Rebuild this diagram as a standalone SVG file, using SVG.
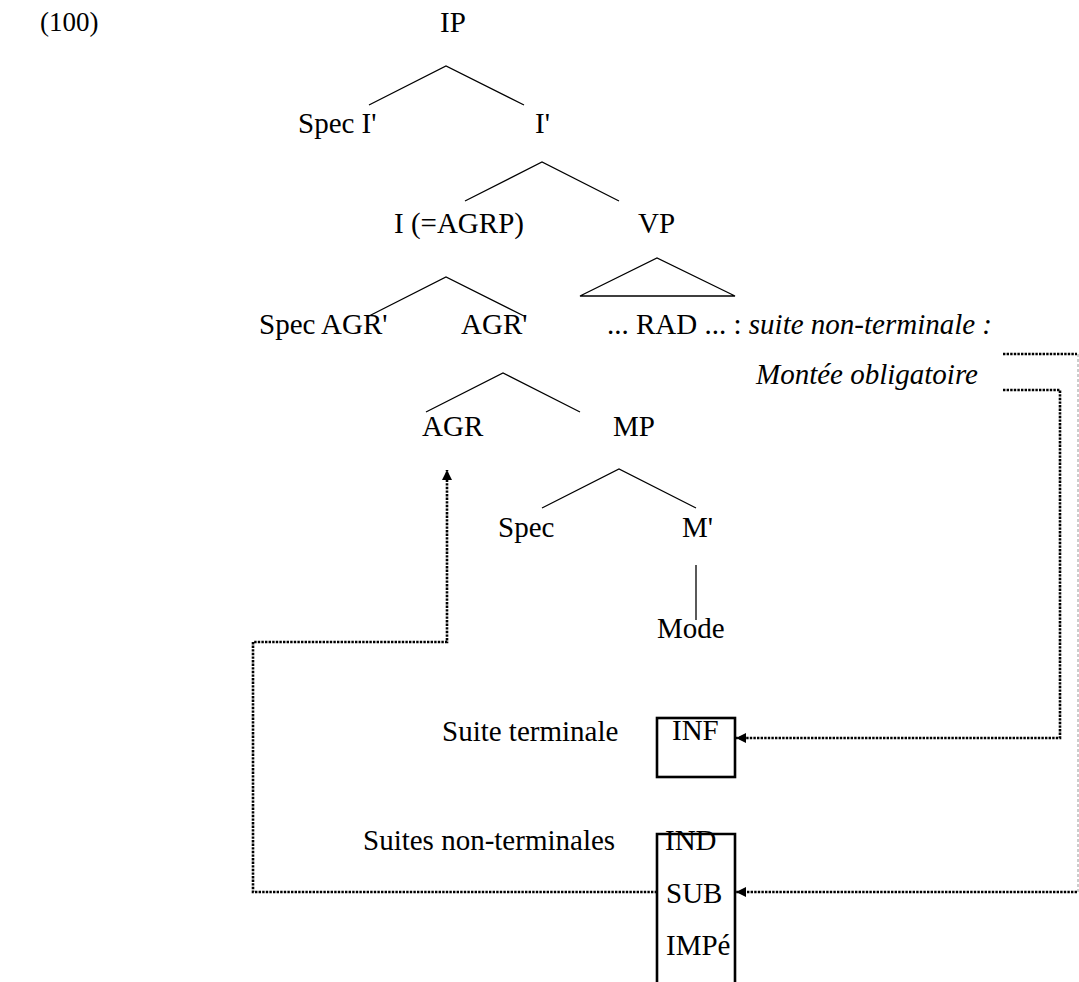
<svg xmlns="http://www.w3.org/2000/svg" width="1079" height="982" viewBox="0 0 1079 982">
<style>
text{font-family:"Liberation Serif","Times New Roman",serif;font-size:29px;fill:#000}
.it{font-style:italic}
.edge{stroke:#000;stroke-width:1.3;fill:none}
.dot{stroke:#000;stroke-width:2.6;stroke-dasharray:2.4 1.2;fill:none}
.gdash{stroke:#9a9a9a;stroke-width:1;stroke-dasharray:3 2;fill:none}
.box{stroke:#000;stroke-width:2.6;fill:none}
</style>
<defs>
<marker id="ah" viewBox="0 0 10 10" refX="10" refY="5" markerWidth="11" markerHeight="10" markerUnits="userSpaceOnUse" orient="auto">
<path d="M0,0 L10,5 L0,10 Z" fill="#000"/>
</marker>
</defs>
<rect width="1079" height="982" fill="#fff"/>
<g id="label-100"><text x="40" y="31" style="font-size:27px">(100)</text></g>
<g id="node-IP"><text x="440" y="32">IP</text></g>
<g id="node-SpecI"><text x="298" y="133">Spec I'</text></g>
<g id="node-Ibar"><text x="535" y="133">I'</text></g>
<g id="node-I-AGRP"><text x="394" y="233">I (=AGRP)</text></g>
<g id="node-VP"><text x="638" y="233">VP</text></g>
<g id="node-SpecAGR"><text x="259" y="334">Spec AGR'</text></g>
<g id="node-AGRbar"><text x="461" y="334">AGR'</text></g>
<g id="node-RAD"><text x="607" y="334">... RAD ... : <tspan class="it">suite non-terminale :</tspan></text></g>
<g id="label-montee"><text class="it" x="978" y="384" text-anchor="end">Montée obligatoire</text></g>
<g id="node-AGR"><text x="422" y="436">AGR</text></g>
<g id="node-MP"><text x="613" y="436">MP</text></g>
<g id="node-Spec"><text x="498" y="537">Spec</text></g>
<g id="node-Mbar"><text x="682" y="537">M'</text></g>
<g id="node-Mode"><text x="657" y="638">Mode</text></g>
<g id="label-suite-terminale"><text x="442" y="741">Suite terminale</text></g>
<g id="box-INF"><rect class="box" x="657" y="718" width="78" height="59"/><text x="672" y="740">INF</text></g>
<g id="label-suites-nonterminales"><text x="363" y="850">Suites non-terminales</text></g>
<g id="box-modes">
<path class="box" d="M657,984 V834 H735 V984"/>
<text x="665" y="850">IND</text>
<text x="666" y="903">SUB</text>
<text x="666" y="955">IMPé</text>
</g>
<g id="connectors">
<path class="edge" d="M369,105 L446,66 L524,105"/>
<path class="edge" d="M465,201 L542,162 L619,201"/>
<path class="edge" d="M580,296 L657,258 L735,296 Z"/>
<path class="edge" d="M369,316 L446,277 L524,316"/>
<path class="edge" d="M426,412 L503,373 L580,412"/>
<path class="edge" d="M542,508 L619,469 L696,508"/>
<path class="edge" d="M696,565 V620"/>
<path class="dot" d="M1003,354 H1077"/>
<path class="gdash" d="M1078,354 V892"/>
<path class="dot" d="M1077,892 H736" marker-end="url(#ah)"/>
<path class="dot" d="M1003,390 H1060 V738 H736" marker-end="url(#ah)"/>
<path class="dot" d="M657,892 H253 V642 H447 V470" marker-end="url(#ah)"/>
</g>
</svg>
